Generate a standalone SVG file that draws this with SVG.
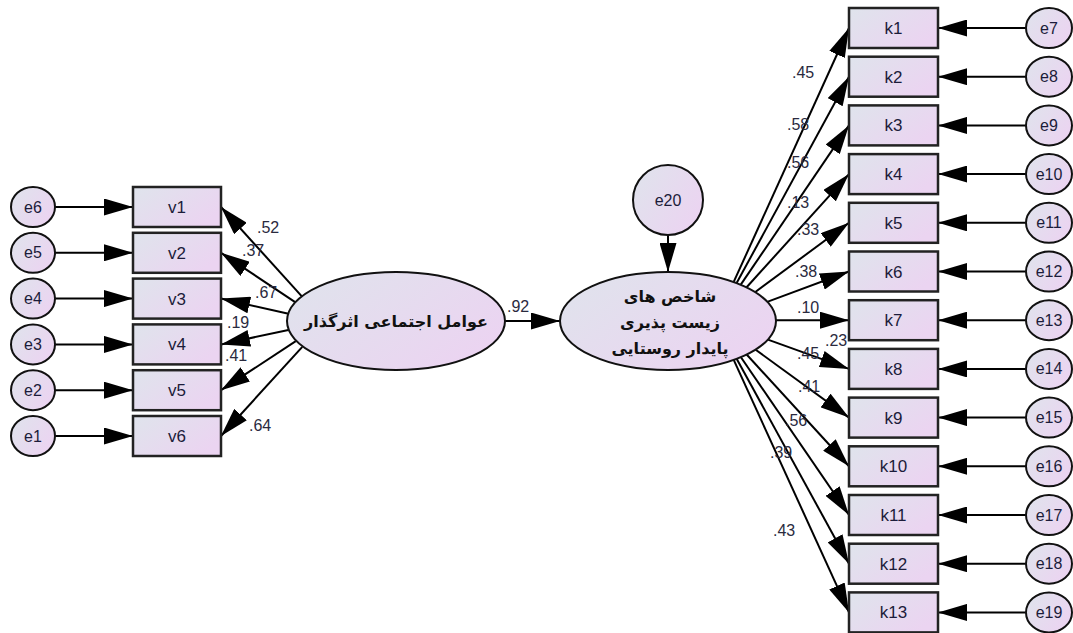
<svg xmlns="http://www.w3.org/2000/svg" width="1073" height="633" viewBox="0 0 1073 633">
<defs>
<linearGradient id="g" x1="0" y1="0" x2="1" y2="0.6">
<stop offset="0" stop-color="#dfe4ec"/>
<stop offset="1" stop-color="#ebd4f1"/>
</linearGradient>
<marker id="ah" markerUnits="userSpaceOnUse" markerWidth="29" markerHeight="17" refX="29" refY="8.5" orient="auto">
<path d="M0,0 L29,8.5 L0,17 z" fill="#000"/>
</marker>
</defs>
<style>
.box{fill:url(#g);stroke:#222;stroke-width:2.5}
.ell{fill:url(#g);stroke:#111;stroke-width:2}
.t{font-family:"Liberation Sans",Arial,sans-serif;font-size:17px;fill:#1c1c3a;text-anchor:middle}
.et{font-family:"Liberation Sans",Arial,sans-serif;font-size:16px;fill:#1c1c3a;text-anchor:middle}
.n{font-family:"Liberation Sans",Arial,sans-serif;font-size:16px;fill:#2a2a3e}
.fa{font-family:"DejaVu Sans",sans-serif;font-size:16px;font-weight:bold;fill:#111;text-anchor:middle}
#conn line{stroke:#000;stroke-width:2;marker-end:url(#ah)}
</style>
<rect width="1073" height="633" fill="#fff"/>

<g id="conn">
<line x1="55" y1="207" x2="133" y2="207"/>
<line x1="55" y1="252.8" x2="133" y2="252.8"/>
<line x1="55" y1="298.6" x2="133" y2="298.6"/>
<line x1="55" y1="344.4" x2="133" y2="344.4"/>
<line x1="55" y1="390.2" x2="133" y2="390.2"/>
<line x1="55" y1="436" x2="133" y2="436"/>
<line x1="302.3" y1="296.9" x2="221" y2="207"/>
<line x1="295.9" y1="302.6" x2="221" y2="252.8"/>
<line x1="288.5" y1="313.8" x2="221" y2="298.6"/>
<line x1="288.4" y1="329.9" x2="221" y2="344.4"/>
<line x1="295.8" y1="341.2" x2="221" y2="390.2"/>
<line x1="302.3" y1="346.9" x2="221" y2="436"/>
<line x1="505" y1="321" x2="560" y2="321"/>
<line x1="668" y1="235" x2="668" y2="272"/>
<line x1="733.6" y1="282.2" x2="849" y2="28"/>
<line x1="736.5" y1="283.3" x2="849" y2="76.7"/>
<line x1="740.6" y1="284.9" x2="849" y2="125.4"/>
<line x1="746.4" y1="287.5" x2="849" y2="174.1"/>
<line x1="755" y1="292.2" x2="849" y2="222.8"/>
<line x1="767.2" y1="301.9" x2="849" y2="271.5"/>
<line x1="776" y1="320.2" x2="849" y2="320.2"/>
<line x1="767.2" y1="339.4" x2="849" y2="368.9"/>
<line x1="755" y1="349.3" x2="849" y2="417.6"/>
<line x1="746.4" y1="354.2" x2="849" y2="466.3"/>
<line x1="740.6" y1="356.8" x2="849" y2="515"/>
<line x1="736.5" y1="358.5" x2="849" y2="563.7"/>
<line x1="733.6" y1="359.6" x2="849" y2="612.4"/>
<line x1="1026" y1="28" x2="938" y2="28"/>
<line x1="1026" y1="76.7" x2="938" y2="76.7"/>
<line x1="1026" y1="125.4" x2="938" y2="125.4"/>
<line x1="1026" y1="174.1" x2="938" y2="174.1"/>
<line x1="1026" y1="222.8" x2="938" y2="222.8"/>
<line x1="1026" y1="271.5" x2="938" y2="271.5"/>
<line x1="1026" y1="320.2" x2="938" y2="320.2"/>
<line x1="1026" y1="368.9" x2="938" y2="368.9"/>
<line x1="1026" y1="417.6" x2="938" y2="417.6"/>
<line x1="1026" y1="466.3" x2="938" y2="466.3"/>
<line x1="1026" y1="515" x2="938" y2="515"/>
<line x1="1026" y1="563.7" x2="938" y2="563.7"/>
<line x1="1026" y1="612.4" x2="938" y2="612.4"/>
</g>

<g id="labels">
<text class="n" x="257" y="233">.52</text>
<text class="n" x="242" y="256">.37</text>
<text class="n" x="255" y="298">.67</text>
<text class="n" x="227" y="328">.19</text>
<text class="n" x="225" y="361">.41</text>
<text class="n" x="249" y="431">.64</text>
<text class="n" x="507" y="312">.92</text>
<text class="n" x="792" y="78">.45</text>
<text class="n" x="787" y="130">.58</text>
<text class="n" x="787" y="168">.56</text>
<text class="n" x="787" y="208">.13</text>
<text class="n" x="797" y="235">.33</text>
<text class="n" x="795" y="277">.38</text>
<text class="n" x="797" y="313">.10</text>
<text class="n" x="825" y="346">.23</text>
<text class="n" x="797" y="359">.45</text>
<text class="n" x="798" y="392">.41</text>
<text class="n" x="785" y="426">.56</text>
<text class="n" x="770" y="458">.39</text>
<text class="n" x="773" y="536">.43</text>
</g>

<g id="e6"><ellipse class="ell" cx="33" cy="207" rx="22" ry="20"/><text class="et" x="33" y="212.5">e6</text></g>
<g id="e5"><ellipse class="ell" cx="33" cy="252.8" rx="22" ry="20"/><text class="et" x="33" y="258.3">e5</text></g>
<g id="e4"><ellipse class="ell" cx="33" cy="298.6" rx="22" ry="20"/><text class="et" x="33" y="304.1">e4</text></g>
<g id="e3"><ellipse class="ell" cx="33" cy="344.4" rx="22" ry="20"/><text class="et" x="33" y="349.9">e3</text></g>
<g id="e2"><ellipse class="ell" cx="33" cy="390.2" rx="22" ry="20"/><text class="et" x="33" y="395.7">e2</text></g>
<g id="e1"><ellipse class="ell" cx="33" cy="436" rx="22" ry="20"/><text class="et" x="33" y="441.5">e1</text></g>

<g id="v1"><rect class="box" x="133" y="187" width="88" height="40"/><text class="t" x="177" y="213">v1</text></g>
<g id="v2"><rect class="box" x="133" y="232.8" width="88" height="40"/><text class="t" x="177" y="258.8">v2</text></g>
<g id="v3"><rect class="box" x="133" y="278.6" width="88" height="40"/><text class="t" x="177" y="304.6">v3</text></g>
<g id="v4"><rect class="box" x="133" y="324.4" width="88" height="40"/><text class="t" x="177" y="350.4">v4</text></g>
<g id="v5"><rect class="box" x="133" y="370.2" width="88" height="40"/><text class="t" x="177" y="396.2">v5</text></g>
<g id="v6"><rect class="box" x="133" y="416" width="88" height="40"/><text class="t" x="177" y="442">v6</text></g>

<g id="f1"><ellipse class="ell" cx="396" cy="321" rx="109" ry="49"/><text class="fa" x="396" y="327" direction="rtl">عوامل اجتماعی اثرگذار</text></g>

<g id="e20"><ellipse class="ell" cx="668" cy="200" rx="35" ry="35"/><text class="et" x="668" y="205.5">e20</text></g>

<g id="f2"><ellipse class="ell" cx="668" cy="321" rx="108" ry="49"/>
<text class="fa" x="670" y="302" direction="rtl">شاخص های</text>
<text class="fa" x="670" y="328" direction="rtl">زیست پذیری</text>
<text class="fa" x="670" y="354" direction="rtl">پایدار روستایی</text></g>

<g id="k1"><rect class="box" x="849" y="8" width="89" height="40"/><text class="t" x="893.5" y="34">k1</text></g>
<g id="k2"><rect class="box" x="849" y="56.7" width="89" height="40"/><text class="t" x="893.5" y="82.7">k2</text></g>
<g id="k3"><rect class="box" x="849" y="105.4" width="89" height="40"/><text class="t" x="893.5" y="131.4">k3</text></g>
<g id="k4"><rect class="box" x="849" y="154.1" width="89" height="40"/><text class="t" x="893.5" y="180.1">k4</text></g>
<g id="k5"><rect class="box" x="849" y="202.8" width="89" height="40"/><text class="t" x="893.5" y="228.8">k5</text></g>
<g id="k6"><rect class="box" x="849" y="251.5" width="89" height="40"/><text class="t" x="893.5" y="277.5">k6</text></g>
<g id="k7"><rect class="box" x="849" y="300.2" width="89" height="40"/><text class="t" x="893.5" y="326.2">k7</text></g>
<g id="k8"><rect class="box" x="849" y="348.9" width="89" height="40"/><text class="t" x="893.5" y="374.9">k8</text></g>
<g id="k9"><rect class="box" x="849" y="397.6" width="89" height="40"/><text class="t" x="893.5" y="423.6">k9</text></g>
<g id="k10"><rect class="box" x="849" y="446.3" width="89" height="40"/><text class="t" x="893.5" y="472.3">k10</text></g>
<g id="k11"><rect class="box" x="849" y="495" width="89" height="40"/><text class="t" x="893.5" y="521">k11</text></g>
<g id="k12"><rect class="box" x="849" y="543.7" width="89" height="40"/><text class="t" x="893.5" y="569.7">k12</text></g>
<g id="k13"><rect class="box" x="849" y="592.4" width="89" height="40"/><text class="t" x="893.5" y="618.4">k13</text></g>

<g id="e7"><ellipse class="ell" cx="1049" cy="28" rx="23" ry="20"/><text class="et" x="1049" y="33.5">e7</text></g>
<g id="e8"><ellipse class="ell" cx="1049" cy="76.7" rx="23" ry="20"/><text class="et" x="1049" y="82.2">e8</text></g>
<g id="e9"><ellipse class="ell" cx="1049" cy="125.4" rx="23" ry="20"/><text class="et" x="1049" y="130.9">e9</text></g>
<g id="e10"><ellipse class="ell" cx="1049" cy="174.1" rx="23" ry="20"/><text class="et" x="1049" y="179.6">e10</text></g>
<g id="e11"><ellipse class="ell" cx="1049" cy="222.8" rx="23" ry="20"/><text class="et" x="1049" y="228.3">e11</text></g>
<g id="e12"><ellipse class="ell" cx="1049" cy="271.5" rx="23" ry="20"/><text class="et" x="1049" y="277">e12</text></g>
<g id="e13"><ellipse class="ell" cx="1049" cy="320.2" rx="23" ry="20"/><text class="et" x="1049" y="325.7">e13</text></g>
<g id="e14"><ellipse class="ell" cx="1049" cy="368.9" rx="23" ry="20"/><text class="et" x="1049" y="374.4">e14</text></g>
<g id="e15"><ellipse class="ell" cx="1049" cy="417.6" rx="23" ry="20"/><text class="et" x="1049" y="423.1">e15</text></g>
<g id="e16"><ellipse class="ell" cx="1049" cy="466.3" rx="23" ry="20"/><text class="et" x="1049" y="471.8">e16</text></g>
<g id="e17"><ellipse class="ell" cx="1049" cy="515" rx="23" ry="20"/><text class="et" x="1049" y="520.5">e17</text></g>
<g id="e18"><ellipse class="ell" cx="1049" cy="563.7" rx="23" ry="20"/><text class="et" x="1049" y="569.2">e18</text></g>
<g id="e19"><ellipse class="ell" cx="1049" cy="612.4" rx="23" ry="20"/><text class="et" x="1049" y="617.9">e19</text></g>
</svg>
